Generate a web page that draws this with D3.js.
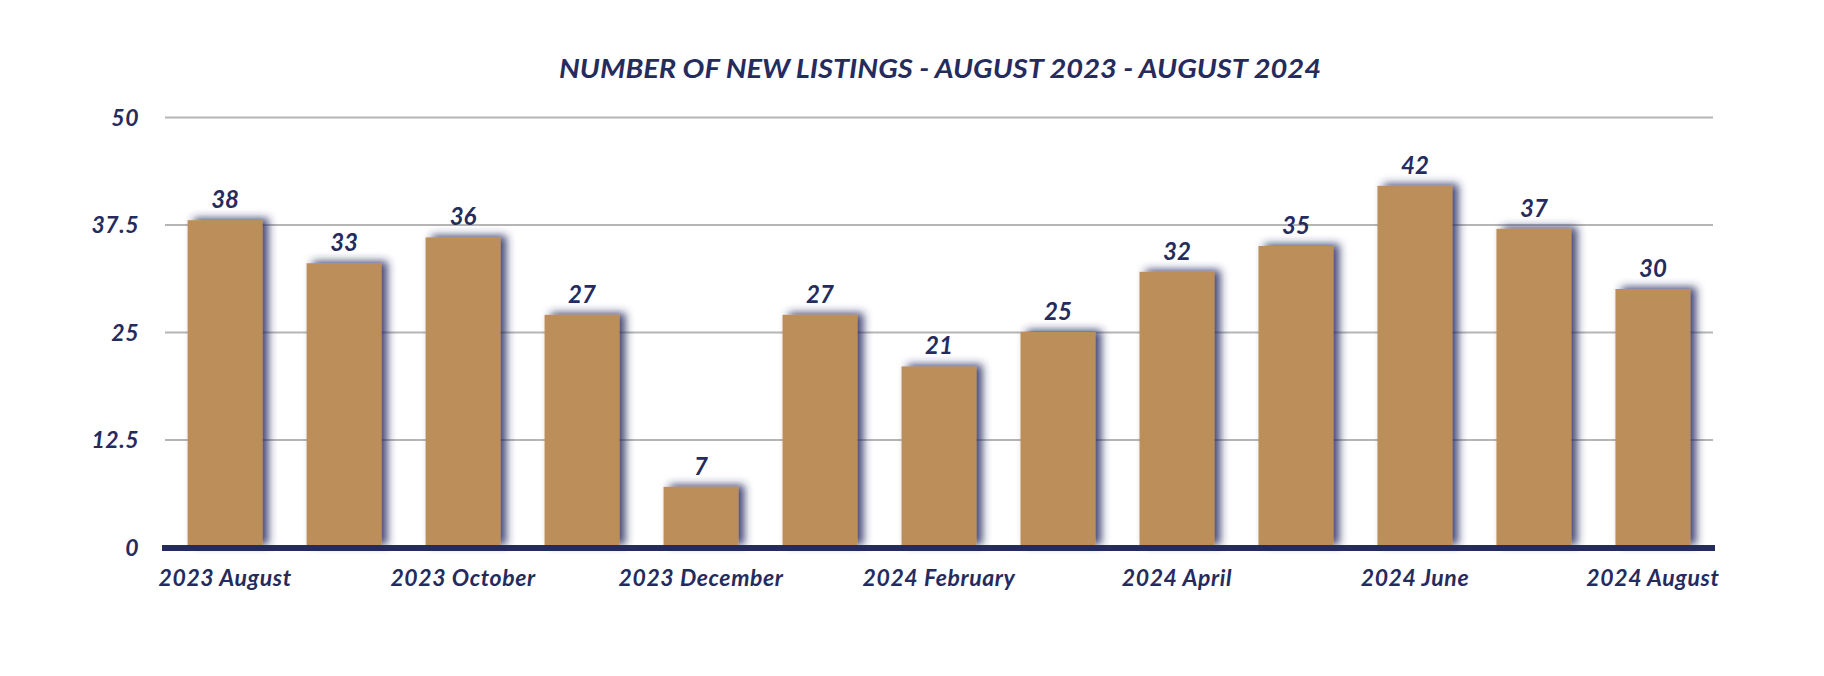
<!DOCTYPE html>
<html>
<head>
<meta charset="utf-8">
<script src="https://cdn.jsdelivr.net/npm/d3@7/dist/d3.min.js"></script>
<style>
  html, body { margin: 0; padding: 0; background: #ffffff; }
  svg { display: block; }
  text { font-family: Lato, "Open Sans", sans-serif; font-weight: 700; font-style: italic; fill: #262b5e; }
</style>
</head>
<body>
<svg id="chart" width="1824" height="676"></svg>
<script>
const categories = ["2023 August", "2023 September", "2023 October", "2023 November", "2023 December",
  "2024 January", "2024 February", "2024 March", "2024 April", "2024 May", "2024 June", "2024 July", "2024 August"];
const listings = [38, 33, 36, 27, 7, 27, 21, 25, 32, 35, 42, 37, 30];
const yTicks = [0, 12.5, 25, 37.5, 50];
const xTickLabels = ["2023 August", "2023 October", "2023 December", "2024 February", "2024 April", "2024 June", "2024 August"];
const title = "NUMBER OF NEW LISTINGS - AUGUST 2023 - AUGUST 2024";

const navy = "#262b5e";
const barColor = "#bc8f5a";

const svg = d3.select("#chart");
const defs = svg.append("defs");
const f = defs.append("filter").attr("id", "shadow")
  .attr("x", "-30%").attr("y", "-20%").attr("width", "170%").attr("height", "140%");
f.append("feDropShadow").attr("dx", 6).attr("dy", -2).attr("stdDeviation", 4.2)
  .attr("flood-color", "#252a62").attr("flood-opacity", 0.85);

const plotLeft = 165, plotRight = 1713, plotTop = 117, plotBottom = 547;

const x = d3.scaleBand().domain(categories).range([plotLeft, plotRight]).paddingInner(0.37).paddingOuter(0.19);
const y = d3.scaleLinear().domain([0, 50]).range([plotBottom, plotTop]);

// title
svg.append("text").attr("x", 940).attr("y", 78).attr("text-anchor", "middle")
  .style("font-size", "27px")
  .attr("textLength", 762).attr("lengthAdjust", "spacingAndGlyphs")
  .text(title);

// gridlines
const yAxis = d3.axisLeft(y).tickValues(yTicks).tickSize(-(plotRight - plotLeft)).tickPadding(26)
  .tickFormat(d => d3.format("")(d));
const gy = svg.append("g").attr("transform", `translate(${plotLeft},0)`).call(yAxis);
gy.select(".domain").remove();
gy.selectAll(".tick line").attr("stroke", "#b5b5b5").attr("stroke-width", 2);
gy.selectAll(".tick text").style("font-size", "23px").style("letter-spacing", "0.5px")
  .attr("fill", navy).attr("dy", "0.35em");

// bars
svg.append("g").selectAll("rect").data(listings).join("rect")
  .attr("x", (d, i) => x(categories[i]))
  .attr("y", d => y(d))
  .attr("width", x.bandwidth())
  .attr("height", d => y(0) - y(d))
  .attr("fill", barColor)
  .attr("filter", "url(#shadow)");

// value labels
svg.append("g").selectAll("text").data(listings).join("text")
  .attr("x", (d, i) => x(categories[i]) + x.bandwidth() / 2)
  .attr("y", d => y(d) - 12)
  .attr("text-anchor", "middle")
  .style("font-size", "24px")
  .text(d => d);

// baseline
svg.append("line").attr("x1", 162).attr("x2", 1715).attr("y1", y(0) + 1).attr("y2", y(0) + 1)
  .attr("stroke", navy).attr("stroke-width", 6);

// x labels
const xAxis = d3.axisBottom(x).tickValues(xTickLabels).tickSize(0).tickPadding(23);
const gx = svg.append("g").attr("transform", `translate(0,${plotBottom})`).call(xAxis);
gx.select(".domain").remove();
gx.selectAll(".tick text").style("font-size", "23px").style("letter-spacing", "0.6px").attr("fill", navy);
</script>
</body>
</html>
